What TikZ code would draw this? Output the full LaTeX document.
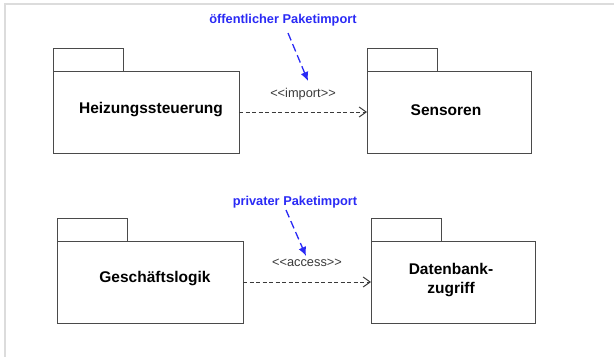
\documentclass[tikz,border=0pt]{standalone}
\usepackage{fontspec}
\setmainfont{Liberation Sans}
\usetikzlibrary{arrows.meta}
\definecolor{framegray}{HTML}{DCDCDC}
\definecolor{pkgline}{HTML}{4A4A4A}
\definecolor{notblue}{HTML}{2A2AF5}
\definecolor{stereo}{HTML}{3A3A3A}
\tikzset{
  pkgbody/.style={draw=pkgline,line width=1pt,fill=white,minimum height=82pt,inner sep=0pt,outer sep=0pt,anchor=north west},
  pkgtab/.style={draw=pkgline,line width=1pt,minimum width=70pt,minimum height=23pt,inner sep=0pt,outer sep=0pt,anchor=south west},
  pkgname/.style={font=\fontsize{15.5}{19}\selectfont\bfseries,text=black,align=center,inner sep=0pt},
  notelabel/.style={font=\fontsize{12.8}{15}\selectfont\bfseries,text=notblue,inner sep=0pt},
  stereolabel/.style={font=\fontsize{12.8}{15}\selectfont,text=stereo,inner sep=0pt},
  depline/.style={draw=stereo,line width=1pt,dash pattern=on 4pt off 2.5pt,-{Straight Barb[length=7pt,width=10pt,line width=1pt]}},
  notearrow/.style={draw=notblue,line width=1.3pt,dash pattern=on 8pt off 4pt,-{Latex[length=9pt,width=8pt]}},
  framel/.style={draw=framegray,line width=2pt}
}
\begin{document}
\begin{tikzpicture}[x=1pt,y=-1pt]
\useasboundingbox (0,0) rectangle (614,357);
% frame
\coordinate (ftr) at (614,4);
\coordinate (ftl) at (5,4);
\coordinate (fbl) at (5,357);
\draw[framel] (ftr) -- (ftl) -- (fbl);
% top packages
\node[pkgbody,minimum width=186pt] (heiz) at (53,71) {};
\node[pkgtab] (heiztab) at (heiz.north west) {};
\node[pkgname] (heiztxt) at (151,110) {Heizungssteuerung};
\node[pkgbody,minimum width=164pt] (sens) at (367,71) {};
\node[pkgtab] (senstab) at (sens.north west) {};
\node[pkgname] (senstxt) at (446,110) {Sensoren};
% bottom packages
\node[pkgbody,minimum width=186pt] (gesch) at (57,241) {};
\node[pkgtab] (geschtab) at (gesch.north west) {};
\node[pkgname] (geschtxt) at (155,279) {Geschäftslogik};
\node[pkgbody,minimum width=164pt] (daten) at (371,241) {};
\node[pkgtab] (datentab) at (daten.north west) {};
\node[pkgname] (datentxt) at (451,280) {Datenbank-\\zugriff};
% dependencies
\draw[depline] (heiz.east) -- (sens.west);
\draw[depline] (gesch.east) -- (daten.west);
\node[stereolabel] (imp) at (303,94) {<{}<import>{}>};
\node[stereolabel] (acc) at (307,263) {<{}<access>{}>};
% notes
\node[notelabel] (oeff) at (283,20) {öffentlicher Paketimport};
\node[notelabel] (priv) at (295,202) {privater Paketimport};
\coordinate (oeffs) at (288,33);
\coordinate (oeffe) at (308,81);
\coordinate (privs) at (286,210);
\coordinate (prive) at (306,256);
\draw[notearrow] (oeffs) -- (oeffe);
\draw[notearrow] (privs) -- (prive);
\end{tikzpicture}
\end{document}
